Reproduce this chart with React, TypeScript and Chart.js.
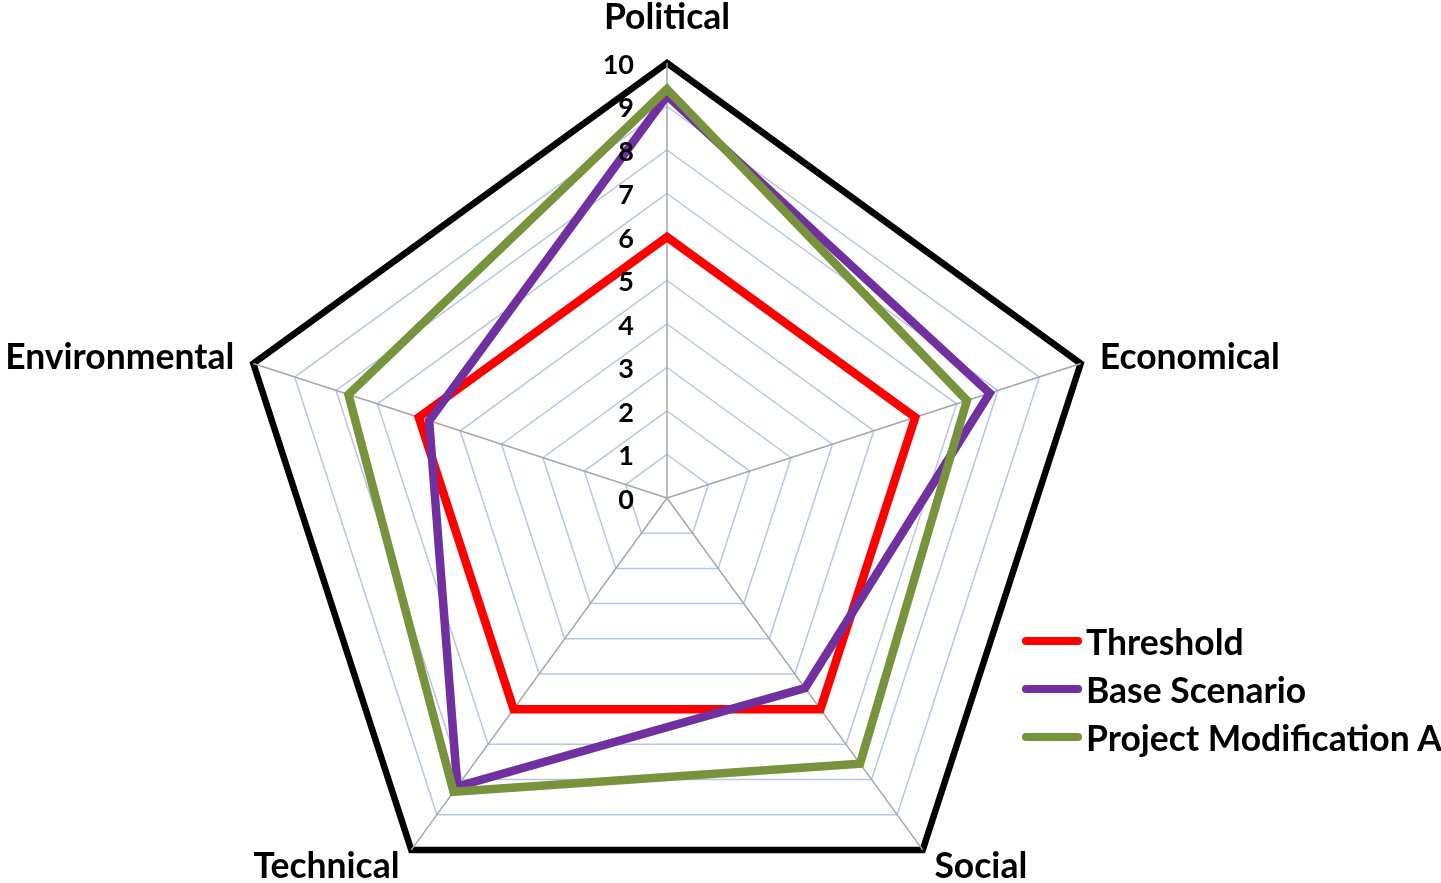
import React, { useEffect, useRef } from 'react';
import { Chart, registerables } from 'chart.js';

Chart.register(...registerables);

const categories = ['Political', 'Economical', 'Social', 'Technical', 'Environmental'];
const thresholdValues = [6, 6, 6, 6, 6];
const baseScenarioValues = [9.25, 7.8, 5.4, 8.2, 5.75];
const projectModAValues = [9.4, 7.25, 7.55, 8.35, 7.7];
const tickValues = [0, 1, 2, 3, 4, 5, 6, 7, 8, 9, 10];
const seriesNames = ['Threshold', 'Base Scenario', 'Project Modification A'];
const seriesColors = ['#FF0000', '#7030A0', '#77933C'];

const FONT = 'Lato, "Open Sans", sans-serif';

const labelPlugin = {
  id: 'customLabels',
  afterDatasetsDraw(chart: any) {
    const scale = chart.scales.r;
    const ctx = chart.ctx;
    ctx.save();
    ctx.fillStyle = '#000';
    ctx.font = `bold 27px ${FONT}`;
    ctx.textAlign = 'right';
    ctx.textBaseline = 'middle';
    tickValues.forEach((v) => {
      const p = scale.getPointPositionForValue(0, v);
      ctx.fillText(String(v), scale.xCenter - 33, p.y + 2);
    });
    ctx.font = `bold 35.5px ${FONT}`;
    categories.forEach((label, i) => {
      const p = scale.getPointPosition(i, scale.drawingArea + 20);
      const dx = p.x - scale.xCenter;
      const align = Math.abs(dx) < 1 ? 'center' : dx > 0 ? 'left' : 'right';
      let y = p.y;
      if (Math.abs(dx) < 1) y -= 25;
      ctx.textAlign = align;
      ctx.fillText(label, p.x, y);
    });
    ctx.restore();
  },
};

export default function App() {
  const canvasRef = useRef<HTMLCanvasElement | null>(null);

  useEffect(() => {
    if (!canvasRef.current) return;
    const seriesValues = [thresholdValues, baseScenarioValues, projectModAValues];
    const chart = new Chart(canvasRef.current, {
      type: 'radar',
      data: {
        labels: categories,
        datasets: seriesNames.map((name, i) => ({
          label: name,
          data: seriesValues[i],
          borderColor: seriesColors[i],
          backgroundColor: 'transparent',
          borderWidth: 8.5,
          pointRadius: 0,
          pointHoverRadius: 0,
          fill: false,
          order: 3 - i,
        })),
      },
      options: {
        responsive: false,
        maintainAspectRatio: false,
        animation: false,
        layout: { padding: 0 },
        plugins: {
          legend: { display: false },
          tooltip: { enabled: false },
        },
        scales: {
          r: {
            min: 0,
            max: 10,
            beginAtZero: true,
            ticks: { stepSize: 1, display: false },
            pointLabels: { display: false },
            grid: {
              circular: false,
              color: (c: any) => (c.tick && c.tick.value === 10 ? '#000000' : '#B4C7E7'),
              lineWidth: (c: any) => (c.tick && c.tick.value === 10 ? 6.5 : 1.5),
            },
            angleLines: { color: '#A6A6A6', lineWidth: 1.5 },
            afterFit: (scale: any) => {
              scale.xCenter = 667;
              scale.yCenter = 498;
              scale.drawingArea = 435;
            },
          },
        },
      },
      plugins: [labelPlugin],
    });
    return () => chart.destroy();
  }, []);

  return (
    <div style={{ position: 'fixed', left: 0, top: 0, width: 1441, height: 883, background: '#fff' }}>
      <canvas ref={canvasRef} width={1441} height={883} style={{ display: 'block' }} />
      <div style={{ position: 'absolute', left: 1022, top: 617 }}>
        {seriesNames.map((name, i) => (
          <div key={name} style={{ display: 'flex', alignItems: 'center', height: 48 }}>
            <div style={{ width: 60, height: 8, borderRadius: 4, background: seriesColors[i], marginRight: 4 }} />
            <span style={{ font: `bold 35.5px ${FONT}`, color: '#000', whiteSpace: 'nowrap' }}>{name}</span>
          </div>
        ))}
      </div>
    </div>
  );
}
